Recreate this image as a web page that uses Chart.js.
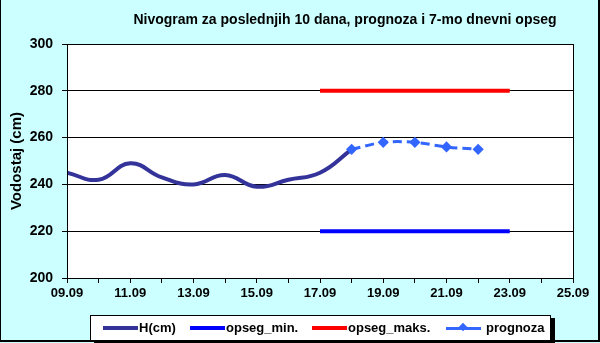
<!DOCTYPE html>
<html>
<head>
<meta charset="utf-8">
<script src="https://cdn.jsdelivr.net/npm/chart.js@4"></script>
<style>
  body { margin: 0; }
  #wrap { position: relative; width: 600px; height: 343px; background: #CCFFFF; overflow: hidden;
          font-family: "Liberation Sans", Arial, sans-serif; font-weight: bold; color: #000; }
  #frame { position: absolute; left: 0; top: 0; width: 597px; height: 340px;
           border-left: 1px solid #000; border-right: 2px solid #000; border-bottom: 2px solid #000; }
  #chart { position: absolute; left: 0; top: 0; }
  #title { position: absolute; left: 0; width: 690px; top: 11px; text-align: center; font-size: 14px; }
  #legend { position: absolute; left: 90px; top: 315px; width: 459px; height: 24px; background: #fff;
            border: 1px solid #000; box-shadow: 4px 3px 0 #000; font-size: 13px; }
  .swatch { position: absolute; top: 10px; height: 4px; width: 35px; }
  .label { position: absolute; top: 4px; }
  .mark { position: absolute; top: 8px; width: 6px; height: 6px; background: #3366FF; transform: rotate(45deg); }
</style>
</head>
<body>
<div id="wrap">
  <canvas id="chart" width="600" height="343"></canvas>
  <div id="title">Nivogram za poslednjih 10 dana, prognoza i 7-mo dnevni opseg</div>
  <div id="legend">
    <span class="swatch" style="left:12px;background:#333399"></span><span class="label" style="left:48px">H(cm)</span>
    <span class="swatch" style="left:99px;background:#0000FF"></span><span class="label" style="left:135px">opseg_min.</span>
    <span class="swatch" style="left:221px;background:#FF0000"></span><span class="label" style="left:257px">opseg_maks.</span>
    <span class="swatch" style="left:355px;height:3px;top:11px;background:#3366FF"></span><span class="mark" style="left:369px"></span>
    <span class="label" style="left:395px">prognoza</span>
  </div>
  <div id="frame"></div>
</div>
<script>
// measured water level (day of September -> cm)
const hDays = [9, 10, 11, 12, 13, 14, 15, 16, 17, 18];
const hLevels = [245, 242, 249, 243, 240, 244, 239, 242, 245, 255];

// forecast
const progDays = [18, 19, 20, 21, 22];
const progLevels = [255, 258, 258, 256, 255];

// 7 day range
const rangeDays = [17, 23];
const minLevels = [220, 220];
const maxLevels = [280, 280];

const yTicks = [200, 220, 240, 260, 280, 300];

function toPoints(xs, ys) {
    return xs.map((x, i) => ({ x: x, y: ys[i] }));
}

function dayLabel(v) {
    if (v % 2 === 0) return '';
    return String(v).padStart(2, '0') + '.09';
}

const FONT = "'Liberation Sans', Arial, sans-serif";

// white plot area with black frame
const plotBg = {
    id: 'plotBg',
    beforeDraw(chart) {
        const a = chart.chartArea;
        const ctx = chart.ctx;
        ctx.save();
        ctx.fillStyle = '#fff';
        ctx.fillRect(a.left, a.top, a.right - a.left, a.bottom - a.top);
        ctx.restore();
    },
    afterDraw(chart) {
        const a = chart.chartArea;
        const ctx = chart.ctx;
        ctx.save();
        ctx.strokeStyle = '#000';
        ctx.lineWidth = 1;
        ctx.strokeRect(a.left + 0.5, a.top + 0.5, a.right - a.left, a.bottom - a.top);
        ctx.restore();
    }
};

new Chart(document.getElementById('chart'), {
    type: 'line',
    data: {
        datasets: [
            { label: 'opseg_min.', data: toPoints(rangeDays, minLevels), borderColor: '#0000FF', borderWidth: 4, pointRadius: 0, tension: 0 },
            { label: 'opseg_maks.', data: toPoints(rangeDays, maxLevels), borderColor: '#FF0000', borderWidth: 4, pointRadius: 0, tension: 0 },
            { label: 'prognoza', data: toPoints(progDays, progLevels), borderColor: '#3366FF', backgroundColor: '#3366FF',
              borderWidth: 3, borderDash: [9, 5], pointStyle: 'rectRot', pointRadius: 3.5, tension: 0.3 },
            { label: 'H(cm)', data: toPoints(hDays, hLevels), borderColor: '#333399', borderWidth: 4, pointRadius: 0,
              tension: 0.45, cubicInterpolationMode: 'default' }
        ]
    },
    options: {
        responsive: false,
        animation: false,
        layout: { padding: { left: 0, top: 44, right: 27, bottom: 43 } },
        plugins: { legend: { display: false }, title: { display: false }, tooltip: { enabled: false } },
        scales: {
            x: {
                type: 'linear', min: 9, max: 25,
                afterFit: s => { s.height = 22; },
                border: { color: '#000', width: 1 },
                grid: { drawOnChartArea: false, color: '#000', tickLength: 5 },
                ticks: { stepSize: 1, autoSkip: false, maxRotation: 0, padding: 3, color: '#000',
                         font: { family: FONT, size: 13, weight: 'bold' }, callback: v => dayLabel(v) }
            },
            y: {
                min: 200, max: 300,
                afterFit: s => { s.width = 67; },
                afterBuildTicks: s => { s.ticks = yTicks.map(v => ({ value: v })); },
                border: { color: '#000', width: 1 },
                grid: { color: '#000', tickLength: 5 },
                ticks: { padding: 9, color: '#000', font: { family: FONT, size: 14, weight: 'bold' } },
                title: { display: true, text: 'Vodostaj (cm)', color: '#000', padding: { top: 8, bottom: 0 },
                         font: { family: FONT, size: 15, weight: 'bold' } }
            }
        }
    },
    plugins: [plotBg]
});
</script>
</body>
</html>
